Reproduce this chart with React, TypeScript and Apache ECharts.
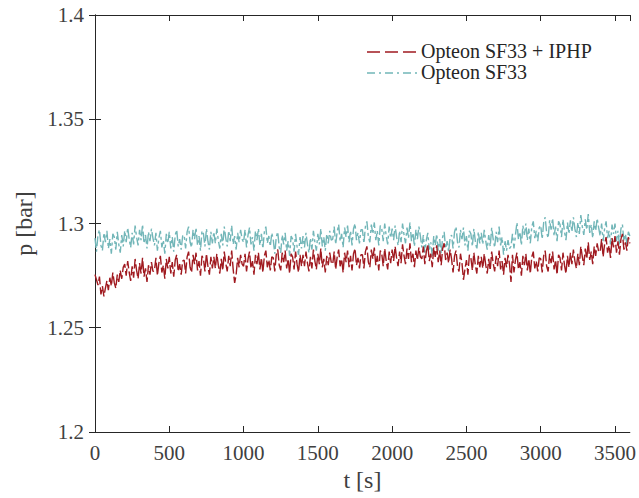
import React, { useEffect, useRef } from "react";
import * as echarts from "echarts";

const STEP_S = 10;
const xTicks = [0, 500, 1000, 1500, 2000, 2500, 3000, 3500];
const yTicks = [1.2, 1.25, 1.3, 1.35, 1.4];
const seriesNames = ["Opteon SF33 + IPHP", "Opteon SF33"];

// Opteon SF33 + IPHP, one value every 10 s (0 … 3600 s)
const iphp = [
  1.2755, 1.2730, 1.2705, 1.2745, 1.2660, 1.2700, 1.2650, 1.2690, 1.2725, 1.2680, 1.2740, 1.2700, 1.2765, 1.2715, 1.2690, 1.2755, 1.2720, 1.2775, 1.2735, 1.2790,
  1.2805, 1.2750, 1.2820, 1.2765, 1.2725, 1.2795, 1.2740, 1.2830, 1.2775, 1.2735, 1.2810, 1.2760, 1.2835, 1.2745, 1.2785, 1.2720, 1.2800, 1.2755, 1.2815, 1.2770,
  1.2775, 1.2835, 1.2750, 1.2810, 1.2845, 1.2765, 1.2800, 1.2735, 1.2830, 1.2785, 1.2840, 1.2760, 1.2815, 1.2745, 1.2825, 1.2850, 1.2770, 1.2805, 1.2755, 1.2820,
  1.2825, 1.2760, 1.2840, 1.2865, 1.2790, 1.2765, 1.2850, 1.2805, 1.2860, 1.2775, 1.2820, 1.2750, 1.2845, 1.2830, 1.2770, 1.2855, 1.2795, 1.2755, 1.2840, 1.2785,
  1.2840, 1.2785, 1.2855, 1.2800, 1.2760, 1.2830, 1.2775, 1.2865, 1.2810, 1.2770, 1.2845, 1.2795, 1.2870, 1.2780, 1.2715, 1.2755, 1.2835, 1.2790, 1.2850, 1.2805,
  1.2795, 1.2855, 1.2770, 1.2830, 1.2865, 1.2785, 1.2820, 1.2755, 1.2850, 1.2805, 1.2860, 1.2780, 1.2835, 1.2765, 1.2845, 1.2870, 1.2790, 1.2825, 1.2775, 1.2840,
  1.2835, 1.2770, 1.2850, 1.2875, 1.2800, 1.2775, 1.2860, 1.2815, 1.2870, 1.2785, 1.2830, 1.2760, 1.2855, 1.2840, 1.2780, 1.2865, 1.2805, 1.2765, 1.2850, 1.2795,
  1.2850, 1.2795, 1.2865, 1.2810, 1.2770, 1.2840, 1.2785, 1.2875, 1.2820, 1.2780, 1.2855, 1.2805, 1.2880, 1.2790, 1.2830, 1.2765, 1.2845, 1.2800, 1.2860, 1.2815,
  1.2805, 1.2865, 1.2780, 1.2840, 1.2875, 1.2795, 1.2830, 1.2765, 1.2860, 1.2815, 1.2870, 1.2790, 1.2845, 1.2775, 1.2855, 1.2880, 1.2800, 1.2835, 1.2785, 1.2850,
  1.2850, 1.2785, 1.2865, 1.2890, 1.2815, 1.2790, 1.2875, 1.2830, 1.2885, 1.2800, 1.2845, 1.2775, 1.2870, 1.2855, 1.2795, 1.2880, 1.2820, 1.2780, 1.2865, 1.2810,
  1.2875, 1.2820, 1.2890, 1.2835, 1.2795, 1.2865, 1.2810, 1.2900, 1.2845, 1.2805, 1.2880, 1.2830, 1.2905, 1.2815, 1.2855, 1.2790, 1.2870, 1.2825, 1.2885, 1.2840,
  1.2830, 1.2890, 1.2805, 1.2865, 1.2900, 1.2820, 1.2855, 1.2790, 1.2885, 1.2840, 1.2895, 1.2815, 1.2870, 1.2800, 1.2880, 1.2905, 1.2825, 1.2860, 1.2810, 1.2875,
  1.2830, 1.2765, 1.2845, 1.2870, 1.2795, 1.2770, 1.2855, 1.2810, 1.2730, 1.2780, 1.2825, 1.2755, 1.2850, 1.2835, 1.2775, 1.2860, 1.2800, 1.2760, 1.2845, 1.2790,
  1.2840, 1.2785, 1.2855, 1.2800, 1.2760, 1.2830, 1.2775, 1.2865, 1.2810, 1.2770, 1.2845, 1.2795, 1.2870, 1.2780, 1.2820, 1.2755, 1.2835, 1.2790, 1.2850, 1.2805,
  1.2720, 1.2850, 1.2765, 1.2825, 1.2860, 1.2780, 1.2815, 1.2750, 1.2845, 1.2800, 1.2855, 1.2775, 1.2830, 1.2760, 1.2840, 1.2865, 1.2785, 1.2820, 1.2770, 1.2835,
  1.2830, 1.2765, 1.2845, 1.2870, 1.2795, 1.2770, 1.2855, 1.2810, 1.2865, 1.2780, 1.2825, 1.2755, 1.2850, 1.2835, 1.2775, 1.2860, 1.2800, 1.2760, 1.2845, 1.2790,
  1.2860, 1.2805, 1.2875, 1.2820, 1.2785, 1.2855, 1.2800, 1.2890, 1.2840, 1.2800, 1.2880, 1.2830, 1.2910, 1.2825, 1.2865, 1.2805, 1.2890, 1.2845, 1.2905, 1.2865,
  1.2865, 1.2925, 1.2840, 1.2900, 1.2935, 1.2860, 1.2895, 1.2835, 1.2930, 1.2885, 1.2940, 1.2860, 1.2915, 1.2850, 1.2925, 1.2950, 1.2875, 1.2910, 1.2870, 1.2935,
  1.2905,
];

// Opteon SF33, one value every 10 s (0 … 3600 s)
const sf33 = [
  1.2930, 1.2865, 1.2945, 1.2970, 1.2895, 1.2870, 1.2955, 1.2910, 1.2965, 1.2880, 1.2925, 1.2855, 1.2950, 1.2935, 1.2875, 1.2960, 1.2900, 1.2860, 1.2945, 1.2890,
  1.2965, 1.2910, 1.2980, 1.2925, 1.2885, 1.2955, 1.2900, 1.2990, 1.2935, 1.2895, 1.2970, 1.2920, 1.2995, 1.2905, 1.2945, 1.2880, 1.2960, 1.2915, 1.2975, 1.2930,
  1.2895, 1.2955, 1.2870, 1.2930, 1.2965, 1.2885, 1.2920, 1.2855, 1.2950, 1.2905, 1.2960, 1.2880, 1.2935, 1.2865, 1.2945, 1.2970, 1.2890, 1.2925, 1.2875, 1.2940,
  1.2945, 1.2880, 1.2960, 1.2985, 1.2910, 1.2885, 1.2970, 1.2925, 1.2980, 1.2895, 1.2940, 1.2870, 1.2965, 1.2950, 1.2890, 1.2975, 1.2915, 1.2875, 1.2960, 1.2905,
  1.2960, 1.2905, 1.2975, 1.2920, 1.2880, 1.2950, 1.2895, 1.2985, 1.2930, 1.2890, 1.2965, 1.2915, 1.2990, 1.2900, 1.2940, 1.2875, 1.2955, 1.2910, 1.2970, 1.2925,
  1.2910, 1.2970, 1.2885, 1.2945, 1.2980, 1.2900, 1.2935, 1.2870, 1.2965, 1.2920, 1.2975, 1.2895, 1.2950, 1.2880, 1.2960, 1.2985, 1.2905, 1.2940, 1.2890, 1.2955,
  1.2920, 1.2855, 1.2935, 1.2960, 1.2885, 1.2860, 1.2945, 1.2900, 1.2955, 1.2870, 1.2915, 1.2845, 1.2940, 1.2925, 1.2865, 1.2950, 1.2890, 1.2850, 1.2935, 1.2880,
  1.2940, 1.2885, 1.2955, 1.2900, 1.2860, 1.2930, 1.2875, 1.2965, 1.2910, 1.2870, 1.2950, 1.2900, 1.2975, 1.2890, 1.2935, 1.2870, 1.2950, 1.2905, 1.2965, 1.2920,
  1.2925, 1.2985, 1.2900, 1.2960, 1.2995, 1.2915, 1.2950, 1.2885, 1.2980, 1.2935, 1.2990, 1.2910, 1.2965, 1.2895, 1.2975, 1.3000, 1.2920, 1.2955, 1.2905, 1.2970,
  1.2970, 1.2905, 1.2985, 1.3010, 1.2935, 1.2910, 1.2995, 1.2950, 1.3005, 1.2920, 1.2965, 1.2895, 1.2990, 1.2975, 1.2915, 1.3000, 1.2940, 1.2900, 1.2985, 1.2930,
  1.2975, 1.2920, 1.2990, 1.2935, 1.2895, 1.2965, 1.2910, 1.3000, 1.2945, 1.2905, 1.2980, 1.2930, 1.3005, 1.2915, 1.2955, 1.2890, 1.2970, 1.2925, 1.2985, 1.2940,
  1.2885, 1.2945, 1.2860, 1.2920, 1.2955, 1.2875, 1.2910, 1.2845, 1.2940, 1.2895, 1.2950, 1.2870, 1.2925, 1.2855, 1.2935, 1.2960, 1.2880, 1.2915, 1.2865, 1.2930,
  1.2945, 1.2880, 1.2960, 1.2985, 1.2910, 1.2885, 1.2970, 1.2925, 1.2980, 1.2895, 1.2940, 1.2870, 1.2965, 1.2950, 1.2890, 1.2975, 1.2915, 1.2875, 1.2960, 1.2905,
  1.2955, 1.2900, 1.2970, 1.2915, 1.2875, 1.2945, 1.2890, 1.2980, 1.2925, 1.2885, 1.2960, 1.2910, 1.2985, 1.2895, 1.2935, 1.2850, 1.2915, 1.2870, 1.2920, 1.2880,
  1.2890, 1.2950, 1.2880, 1.2945, 1.3005, 1.2925, 1.2960, 1.2895, 1.2990, 1.2945, 1.3000, 1.2920, 1.2975, 1.2905, 1.2985, 1.3010, 1.2930, 1.2965, 1.2915, 1.2980,
  1.2990, 1.2925, 1.3005, 1.3030, 1.2955, 1.2930, 1.3015, 1.2970, 1.3025, 1.2940, 1.2985, 1.2915, 1.3010, 1.2995, 1.2935, 1.3020, 1.2960, 1.2920, 1.3005, 1.2950,
  1.3015, 1.2960, 1.3030, 1.2975, 1.2935, 1.3005, 1.2950, 1.3040, 1.2985, 1.2945, 1.3020, 1.2970, 1.3045, 1.2955, 1.2995, 1.2930, 1.3010, 1.2965, 1.3025, 1.2980,
  1.2940, 1.3000, 1.2915, 1.2975, 1.3010, 1.2930, 1.2965, 1.2900, 1.2995, 1.2950, 1.3000, 1.2915, 1.2965, 1.2895, 1.2975, 1.2995, 1.2915, 1.2950, 1.2900, 1.2960,
  1.2940,
];

const FONT = "Liberation Serif";
const AXIS_COLOR = "#262626";
const LABEL_COLOR = "#404040";
const RED = "#A01A20";
const TEAL = "#72B6B8";
const RED_DASH = [13, 5];
const TEAL_DASH = [8, 4, 2, 4];

const FORCE_SERIF_CSS =
  "#p-chart svg text { font-family: 'Liberation Serif', 'Times New Roman', Tinos, serif !important; }";

export default function App() {
  const ref = useRef<HTMLDivElement>(null);
  useEffect(() => {
    if (!ref.current) return;
    const chart = echarts.init(ref.current, undefined, { renderer: "svg" });
    const toPairs = (arr: number[]) => arr.map((v, i) => [i * STEP_S, v]);
    const axisLine = { show: true, lineStyle: { color: AXIS_COLOR, width: 1 } };
    const axisTick = { show: true, inside: true, length: 6, lineStyle: { color: AXIS_COLOR } };
    const legendRows = [
      { name: seriesNames[0], color: RED, dash: RED_DASH, y: 52 },
      { name: seriesNames[1], color: TEAL, dash: TEAL_DASH, y: 73 },
    ];
    chart.setOption({
      animation: false,
      grid: { left: 95, right: 9, top: 15, bottom: 66 },
      graphic: legendRows.flatMap((r) => [
        {
          type: "line",
          shape: { x1: 367, y1: r.y, x2: 417, y2: r.y },
          style: { stroke: r.color, lineWidth: 1.5, lineDash: r.dash },
          z: 10,
        },
        {
          type: "text",
          x: 421,
          y: r.y - 11,
          style: {
            text: r.name,
            fontFamily: FONT,
            fontSize: 20,
            fill: "#262626",
          },
          z: 10,
        },
      ]),
      xAxis: [
        {
          type: "value",
          min: 0,
          max: 3600,
          interval: 500,
          position: "bottom",
          name: "t [s]",
          nameLocation: "middle",
          nameGap: 33,
          nameTextStyle: { fontFamily: FONT, fontSize: 24, color: LABEL_COLOR },
          axisLine,
          axisTick,
          splitLine: { show: false },
          axisLabel: {
            fontFamily: FONT,
            fontSize: 21,
            color: LABEL_COLOR,
            margin: 10,
            showMaxLabel: false,
            formatter: (v: number) => (xTicks.includes(v) ? String(v) : ""),
          },
        },
        {
          type: "value",
          min: 0,
          max: 3600,
          interval: 500,
          position: "top",
          axisLine,
          axisTick,
          splitLine: { show: false },
          axisLabel: { show: false },
        },
      ],
      yAxis: [
        {
          type: "value",
          min: 1.2,
          max: 1.4,
          interval: 0.05,
          position: "left",
          name: "p [bar]",
          nameLocation: "middle",
          nameGap: 48,
          nameRotate: 90,
          nameTextStyle: { fontFamily: FONT, fontSize: 24, color: LABEL_COLOR },
          axisLine,
          axisTick,
          splitLine: { show: false },
          axisLabel: {
            fontFamily: FONT,
            fontSize: 21,
            color: LABEL_COLOR,
            margin: 11,
            formatter: (v: number) => {
              const t = yTicks.find((y) => Math.abs(y - v) < 1e-9);
              return t === undefined ? "" : String(t);
            },
          },
        },
        {
          type: "value",
          min: 1.2,
          max: 1.4,
          interval: 0.05,
          position: "right",
          axisLine,
          axisTick,
          splitLine: { show: false },
          axisLabel: { show: false },
        },
      ],
      series: [
        {
          name: seriesNames[0],
          type: "line",
          data: toPairs(iphp),
          symbol: "none",
          xAxisIndex: 0,
          yAxisIndex: 0,
          lineStyle: { color: RED, width: 1.4, type: [12, 3] },
          itemStyle: { color: RED },
          z: 3,
        },
        {
          name: seriesNames[1],
          type: "line",
          data: toPairs(sf33),
          symbol: "none",
          xAxisIndex: 0,
          yAxisIndex: 0,
          lineStyle: { color: TEAL, width: 1.4, type: [10, 3, 3, 3] },
          itemStyle: { color: TEAL },
          z: 2,
        },
      ],
    });
    return () => chart.dispose();
  }, []);
  return (
    <>
      <style>{FORCE_SERIF_CSS}</style>
      <div
        id="p-chart"
        ref={ref}
        style={{ position: "absolute", left: 0, top: 0, width: 639, height: 498, background: "#fff" }}
      />
    </>
  );
}
